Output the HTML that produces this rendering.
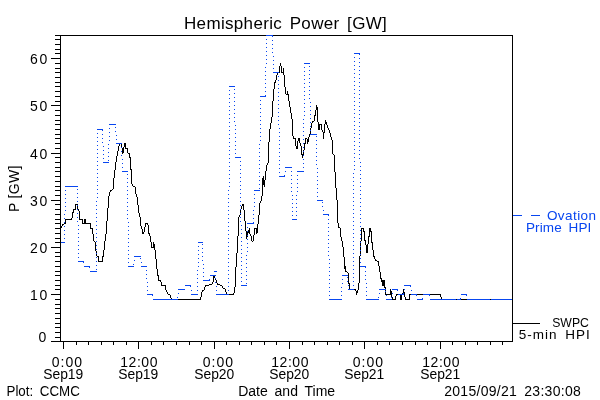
<!DOCTYPE html>
<html><head><meta charset="utf-8"><title>Hemispheric Power</title>
<style>
html,body{margin:0;padding:0;background:#fff;}
svg{display:block;}
text{font-family:"Liberation Sans",sans-serif;}
</style></head><body>
<svg width="600" height="400" viewBox="0 0 600 400">
<rect width="600" height="400" fill="#fff"/>
<g shape-rendering="crispEdges" fill="none" stroke-width="1">
<path d="M60.5 228V229M61.5 226V228M62.5 224V226M63.5 224V225M64.5 223V224M65.5 219V224M66.5 219V220M67.5 219V220M68.5 219V220M69.5 219V220M70.5 219V220M71.5 218V220M72.5 212V218M73.5 209V213M74.5 209V210M75.5 204V210M76.5 204V205M77.5 204V210M78.5 209V211M79.5 211V220M80.5 219V220M81.5 219V220M82.5 219V224M83.5 223V224M84.5 219V224M85.5 219V224M86.5 223V224M87.5 223V224M88.5 223V224M89.5 223V224M90.5 223V229M91.5 228V229M92.5 228V234M93.5 234V241M94.5 241V242M95.5 242V251M96.5 251V256M97.5 256V257M98.5 256V262M99.5 261V262M100.5 261V262M101.5 261V262M102.5 256V262M103.5 250V257M104.5 241V250M105.5 234V241M106.5 221V234M107.5 208V221M108.5 196V208M109.5 192V196M110.5 190V192M111.5 190V191M112.5 189V190M113.5 178V189M114.5 170V178M115.5 162V170M116.5 156V162M117.5 151V156M118.5 146V151M119.5 143V146M120.5 143V144M121.5 143V148M122.5 148V154M123.5 147V153M124.5 143V147M125.5 143V149M126.5 148V149M127.5 148V153M128.5 153V154M129.5 153V158M130.5 157V170M131.5 169V184M132.5 184V186M133.5 186V187M134.5 186V187M135.5 187V194M136.5 194V197M137.5 197V205M138.5 205V213M139.5 213V217M140.5 217V226M141.5 226V229M142.5 229V234M143.5 232V234M144.5 227V232M145.5 223V227M146.5 223V224M147.5 223V225M148.5 225V234M149.5 233V236M150.5 236V242M151.5 242V248M152.5 247V248M153.5 242V248M154.5 244V250M155.5 250V259M156.5 259V269M157.5 269V276M158.5 275V281M159.5 280V281M160.5 280V282M161.5 282V286M162.5 285V286M163.5 285V286M164.5 285V286M165.5 285V290M166.5 290V292M167.5 292V294M168.5 294V295M169.5 294V295M170.5 295V298M171.5 298V300M172.5 299V300M173.5 299V300M174.5 299V300M175.5 299V300M176.5 299V300M177.5 299V300M178.5 299V300M179.5 299V300M180.5 299V300M181.5 299V300M182.5 299V300M183.5 299V300M184.5 299V300M185.5 299V300M186.5 299V300M187.5 299V300M188.5 299V300M189.5 299V300M190.5 299V300M191.5 299V300M192.5 299V300M193.5 299V300M194.5 299V300M195.5 299V300M196.5 299V300M197.5 299V300M198.5 299V300M199.5 299V300M200.5 297V300M201.5 292V297M202.5 290V292M203.5 290V291M204.5 287V290M205.5 285V287M206.5 285V286M207.5 285V286M208.5 285V286M209.5 284V285M210.5 284V285M211.5 284V285M212.5 282V284M213.5 275V282M214.5 275V278M215.5 278V280M216.5 280V283M217.5 283V285M218.5 284V285M219.5 284V285M220.5 285V286M221.5 285V286M222.5 286V288M223.5 288V289M224.5 288V289M225.5 289V292M226.5 292V295M227.5 294V295M228.5 294V295M229.5 294V295M230.5 294V295M231.5 294V295M232.5 294V295M233.5 293V295M234.5 287V293M235.5 267V287M236.5 253V267M237.5 236V253M238.5 217V236M239.5 215V217M240.5 209V215M241.5 206V209M242.5 204V206M243.5 204V210M244.5 210V221M245.5 221V231M246.5 231V239M247.5 232V237M248.5 230V233M249.5 228V234M250.5 234V236M251.5 236V241M252.5 241V242M253.5 235V241M254.5 228V235M255.5 228V229M256.5 228V234M257.5 224V233M258.5 215V224M259.5 203V215M260.5 201V203M261.5 196V201M262.5 178V196M263.5 176V185M264.5 180V187M265.5 171V180M266.5 165V171M267.5 163V165M268.5 142V163M269.5 129V142M270.5 123V129M271.5 117V123M272.5 101V117M273.5 89V101M274.5 82V89M275.5 80V83M276.5 75V80M277.5 73V75M278.5 72V73M279.5 66V73M280.5 63V66M281.5 66V73M282.5 72V73M283.5 68V75M284.5 75V87M285.5 87V94M286.5 94V95M287.5 91V95M288.5 94V101M289.5 101V107M290.5 107V113M291.5 113V119M292.5 119V136M293.5 136V139M294.5 138V139M295.5 138V146M296.5 146V149M297.5 141V149M298.5 138V141M299.5 138V143M300.5 143V146M301.5 146V155M302.5 154V158M303.5 150V156M304.5 143V150M305.5 138V144M306.5 138V139M307.5 139V144M308.5 137V142M309.5 134V137M310.5 128V134M311.5 123V128M312.5 121V123M313.5 121V122M314.5 115V121M315.5 110V116M316.5 105V110M317.5 107V122M318.5 122V130M319.5 124V130M320.5 124V125M321.5 124V130M322.5 130V132M323.5 132V139M324.5 124V133M325.5 120V124M326.5 122V125M327.5 125V128M328.5 128V130M329.5 130V133M330.5 133V137M331.5 137V140M332.5 140V154M333.5 154V155M334.5 155V172M335.5 172V188M336.5 188V200M337.5 200V223M338.5 223V228M339.5 227V228M340.5 228V237M341.5 237V241M342.5 241V247M343.5 247V257M344.5 257V269M345.5 266V272M346.5 271V272M347.5 272V273M348.5 273V284M349.5 283V290M350.5 289V290M351.5 289V290M352.5 289V290M353.5 289V290M354.5 289V290M355.5 289V291M356.5 291V295M357.5 290V293M358.5 283V290M359.5 256V283M360.5 241V256M361.5 228V241M362.5 228V229M363.5 228V232M364.5 231V241M365.5 240V245M366.5 245V253M367.5 244V253M368.5 236V244M369.5 228V237M370.5 228V232M371.5 231V243M372.5 242V250M373.5 250V257M374.5 256V259M375.5 259V261M376.5 260V261M377.5 261V262M378.5 261V266M379.5 266V272M380.5 272V279M381.5 278V282M382.5 280V286M383.5 280V286M384.5 280V288M385.5 287V295M386.5 294V295M387.5 294V295M388.5 294V295M389.5 294V295M390.5 289V295M391.5 291V298M392.5 297V300M393.5 299V300M394.5 299V300M395.5 296V300M396.5 294V296M397.5 294V295M398.5 294V295M399.5 294V295M400.5 294V300M401.5 294V300M402.5 293V294M403.5 289V294M404.5 292V297M405.5 297V300M406.5 299V300M407.5 299V300M408.5 299V300M409.5 294V300M410.5 294V295M411.5 294V295M412.5 294V295M413.5 294V295M414.5 294V295M415.5 294V295M416.5 294V295M417.5 294V295M418.5 294V295M419.5 294V295M420.5 294V295M421.5 294V295M422.5 294V295M423.5 294V295M424.5 294V295M425.5 294V295M426.5 294V295M427.5 294V295M428.5 294V295M429.5 294V295M430.5 294V295M431.5 294V295M432.5 294V295M433.5 294V295M434.5 294V295M435.5 294V295M436.5 294V295M437.5 294V295M438.5 294V295M439.5 294V295M440.5 294V297M441.5 297V300M442.5 299V300M443.5 299V300M444.5 299V300M445.5 299V300M446.5 299V300M447.5 299V300M448.5 299V300M449.5 299V300M450.5 299V300M451.5 299V300M452.5 299V300M453.5 299V300M454.5 299V300M455.5 299V300M456.5 299V300M457.5 299V300M458.5 299V300M459.5 299V300M460.5 299V300M461.5 299V300M462.5 299V300M463.5 299V300M464.5 299V300M465.5 299V300M466.5 299V300M467.5 299V300M468.5 299V300M469.5 299V300M470.5 299V300M471.5 299V300M472.5 299V300M473.5 299V300M474.5 299V300M475.5 299V300M476.5 299V300M477.5 299V300M478.5 299V300M479.5 299V300M480.5 299V300M481.5 299V300M482.5 299V300M483.5 299V300M484.5 299V300M485.5 299V300M486.5 299V300M487.5 299V300M488.5 299V300M489.5 299V300M490.5 299V300M491.5 299V300M492.5 299V300M493.5 299V300M494.5 299V300M495.5 299V300M496.5 299V300M497.5 299V300M498.5 299V300M499.5 299V300M500.5 299V300M501.5 299V300M502.5 299V300M503.5 299V300M504.5 299V300M505.5 299V300M506.5 299V300M507.5 299V300M508.5 299V300M509.5 299V300M510.5 299V300M511.5 299V300M512.5 299V300" stroke="#000"/>
<path d="M61 242.5H65M65 186.5H72M72 186.5H78M78 261.5H84M84 266.5H90M90 271.5H97M97 129.5H103M103 162.5H109M109 124.5H116M116 143.5H122M122 171.5H128M128 266.5H134M134 256.5H141M141 266.5H147M147 294.5H153M153 299.5H160M160 299.5H166M166 299.5H172M172 299.5H178M178 289.5H185M185 285.5H191M191 294.5H198M198 242.5H203M203 280.5H210M210 275.5H216M216 294.5H222M222 294.5H229M229 86.5H235M235 157.5H241M241 285.5H247M247 223.5H254M254 190.5H260M260 96.5H266M266 35.5H273M273 72.5H279M279 176.5H285M285 167.5H292M292 219.5H297M297 171.5H304M304 63.5H310M310 134.5H317M317 200.5H323M323 214.5H329M329 299.5H335M335 299.5H342M342 275.5H348M348 289.5H354M354 53.5H360M360 266.5H366M366 299.5H373M373 299.5H379M379 289.5H386M386 299.5H392M392 289.5H398M398 294.5H404M404 285.5H411M411 294.5H417M417 299.5H423M423 294.5H430M430 299.5H436M436 299.5H442M442 299.5H448M448 299.5H455M455 299.5H461M461 294.5H467M467 299.5H474M474 299.5H480M480 299.5H486M486 299.5H492M492 299.5H499M499 299.5H505M505 299.5H511M511 299.5H512" stroke="#0846f0"/>
<path d="M65.5 190v1M65.5 194v1M65.5 198v1M65.5 202v1M65.5 206v1M65.5 210v1M64.5 214v1M64.5 218v1M64.5 222v1M64.5 226v1M64.5 230v1M64.5 234v1M64.5 238v1M78.5 257v1M78.5 253v1M78.5 249v1M78.5 245v1M78.5 241v1M78.5 237v1M78.5 233v1M78.5 229v1M78.5 225v1M77.5 221v1M77.5 217v1M77.5 213v1M77.5 209v1M77.5 205v1M77.5 201v1M77.5 197v1M77.5 193v1M77.5 189v1M83.5 262v1M89.5 267v1M97.5 133v1M97.5 137v1M97.5 141v1M97.5 145v1M97.5 149v1M97.5 153v1M97.5 157v1M97.5 161v1M97.5 165v1M97.5 169v1M97.5 173v1M97.5 177v1M97.5 181v1M97.5 185v1M97.5 189v1M97.5 193v1M97.5 197v1M96.5 201v1M96.5 205v1M96.5 209v1M96.5 213v1M96.5 217v1M96.5 221v1M96.5 225v1M96.5 229v1M96.5 233v1M96.5 237v1M96.5 241v1M96.5 245v1M96.5 249v1M96.5 253v1M96.5 257v1M96.5 261v1M96.5 265v1M96.5 269v1M103.5 158v1M103.5 154v1M103.5 150v1M103.5 146v1M102.5 142v1M102.5 138v1M102.5 134v1M102.5 130v1M109.5 128v1M109.5 132v1M109.5 136v1M109.5 140v1M108.5 144v1M108.5 148v1M108.5 152v1M108.5 156v1M108.5 160v1M116.5 139v1M116.5 135v1M115.5 131v1M115.5 127v1M122.5 167v1M122.5 163v1M122.5 159v1M121.5 155v1M121.5 151v1M121.5 147v1M128.5 262v1M128.5 258v1M128.5 254v1M128.5 250v1M128.5 246v1M128.5 242v1M128.5 238v1M128.5 234v1M128.5 230v1M128.5 226v1M128.5 222v1M127.5 218v1M127.5 214v1M127.5 210v1M127.5 206v1M127.5 202v1M127.5 198v1M127.5 194v1M127.5 190v1M127.5 186v1M127.5 182v1M127.5 178v1M127.5 174v1M134.5 260v1M133.5 264v1M141.5 262v1M140.5 258v1M147.5 290v1M147.5 286v1M147.5 282v1M146.5 278v1M146.5 274v1M146.5 270v1M152.5 295v1M178.5 293v1M177.5 297v1M191.5 290v1M190.5 286v1M198.5 246v1M198.5 250v1M198.5 254v1M198.5 258v1M198.5 262v1M198.5 266v1M197.5 270v1M197.5 274v1M197.5 278v1M197.5 282v1M197.5 286v1M197.5 290v1M203.5 276v1M203.5 272v1M203.5 268v1M203.5 264v1M202.5 260v1M202.5 256v1M202.5 252v1M202.5 248v1M202.5 244v1M209.5 279v1M216.5 290v1M216.5 286v1M215.5 282v1M215.5 278v1M229.5 90v1M229.5 94v1M229.5 98v1M229.5 102v1M229.5 106v1M229.5 110v1M229.5 114v1M229.5 118v1M229.5 122v1M229.5 126v1M229.5 130v1M229.5 134v1M229.5 138v1M229.5 142v1M229.5 146v1M229.5 150v1M229.5 154v1M229.5 158v1M229.5 162v1M229.5 166v1M229.5 170v1M229.5 174v1M229.5 178v1M229.5 182v1M229.5 186v1M228.5 190v1M228.5 194v1M228.5 198v1M228.5 202v1M228.5 206v1M228.5 210v1M228.5 214v1M228.5 218v1M228.5 222v1M228.5 226v1M228.5 230v1M228.5 234v1M228.5 238v1M228.5 242v1M228.5 246v1M228.5 250v1M228.5 254v1M228.5 258v1M228.5 262v1M228.5 266v1M228.5 270v1M228.5 274v1M228.5 278v1M228.5 282v1M228.5 286v1M228.5 290v1M235.5 153v1M235.5 149v1M235.5 145v1M235.5 141v1M235.5 137v1M235.5 133v1M235.5 129v1M235.5 125v1M234.5 121v1M234.5 117v1M234.5 113v1M234.5 109v1M234.5 105v1M234.5 101v1M234.5 97v1M234.5 93v1M234.5 89v1M241.5 281v1M241.5 277v1M241.5 273v1M241.5 269v1M241.5 265v1M241.5 261v1M241.5 257v1M241.5 253v1M241.5 249v1M241.5 245v1M241.5 241v1M241.5 237v1M241.5 233v1M241.5 229v1M241.5 225v1M240.5 221v1M240.5 217v1M240.5 213v1M240.5 209v1M240.5 205v1M240.5 201v1M240.5 197v1M240.5 193v1M240.5 189v1M240.5 185v1M240.5 181v1M240.5 177v1M240.5 173v1M240.5 169v1M240.5 165v1M240.5 161v1M247.5 227v1M247.5 231v1M247.5 235v1M247.5 239v1M247.5 243v1M247.5 247v1M247.5 251v1M246.5 255v1M246.5 259v1M246.5 263v1M246.5 267v1M246.5 271v1M246.5 275v1M246.5 279v1M246.5 283v1M254.5 194v1M254.5 198v1M254.5 202v1M254.5 206v1M253.5 210v1M253.5 214v1M253.5 218v1M253.5 222v1M260.5 100v1M260.5 104v1M260.5 108v1M260.5 112v1M260.5 116v1M260.5 120v1M260.5 124v1M260.5 128v1M260.5 132v1M260.5 136v1M260.5 140v1M259.5 144v1M259.5 148v1M259.5 152v1M259.5 156v1M259.5 160v1M259.5 164v1M259.5 168v1M259.5 172v1M259.5 176v1M259.5 180v1M259.5 184v1M259.5 188v1M266.5 39v1M266.5 43v1M266.5 47v1M266.5 51v1M266.5 55v1M266.5 59v1M266.5 63v1M265.5 67v1M265.5 71v1M265.5 75v1M265.5 79v1M265.5 83v1M265.5 87v1M265.5 91v1M265.5 95v1M273.5 68v1M273.5 64v1M273.5 60v1M273.5 56v1M272.5 52v1M272.5 48v1M272.5 44v1M272.5 40v1M272.5 36v1M279.5 172v1M279.5 168v1M279.5 164v1M279.5 160v1M279.5 156v1M279.5 152v1M279.5 148v1M279.5 144v1M279.5 140v1M279.5 136v1M279.5 132v1M279.5 128v1M278.5 124v1M278.5 120v1M278.5 116v1M278.5 112v1M278.5 108v1M278.5 104v1M278.5 100v1M278.5 96v1M278.5 92v1M278.5 88v1M278.5 84v1M278.5 80v1M278.5 76v1M285.5 171v1M284.5 175v1M292.5 215v1M292.5 211v1M292.5 207v1M292.5 203v1M292.5 199v1M292.5 195v1M291.5 191v1M291.5 187v1M291.5 183v1M291.5 179v1M291.5 175v1M291.5 171v1M297.5 175v1M297.5 179v1M297.5 183v1M297.5 187v1M297.5 191v1M296.5 195v1M296.5 199v1M296.5 203v1M296.5 207v1M296.5 211v1M296.5 215v1M304.5 67v1M304.5 71v1M304.5 75v1M304.5 79v1M304.5 83v1M304.5 87v1M304.5 91v1M304.5 95v1M304.5 99v1M304.5 103v1M304.5 107v1M304.5 111v1M304.5 115v1M303.5 119v1M303.5 123v1M303.5 127v1M303.5 131v1M303.5 135v1M303.5 139v1M303.5 143v1M303.5 147v1M303.5 151v1M303.5 155v1M303.5 159v1M303.5 163v1M303.5 167v1M310.5 130v1M310.5 126v1M310.5 122v1M310.5 118v1M310.5 114v1M310.5 110v1M310.5 106v1M310.5 102v1M309.5 98v1M309.5 94v1M309.5 90v1M309.5 86v1M309.5 82v1M309.5 78v1M309.5 74v1M309.5 70v1M309.5 66v1M317.5 196v1M317.5 192v1M317.5 188v1M317.5 184v1M317.5 180v1M317.5 176v1M317.5 172v1M317.5 168v1M316.5 164v1M316.5 160v1M316.5 156v1M316.5 152v1M316.5 148v1M316.5 144v1M316.5 140v1M316.5 136v1M323.5 210v1M322.5 206v1M322.5 202v1M329.5 295v1M329.5 291v1M329.5 287v1M329.5 283v1M329.5 279v1M329.5 275v1M329.5 271v1M329.5 267v1M329.5 263v1M329.5 259v1M328.5 255v1M328.5 251v1M328.5 247v1M328.5 243v1M328.5 239v1M328.5 235v1M328.5 231v1M328.5 227v1M328.5 223v1M328.5 219v1M328.5 215v1M342.5 279v1M342.5 283v1M341.5 287v1M341.5 291v1M341.5 295v1M348.5 285v1M347.5 281v1M347.5 277v1M354.5 57v1M354.5 61v1M354.5 65v1M354.5 69v1M354.5 73v1M354.5 77v1M354.5 81v1M354.5 85v1M354.5 89v1M354.5 93v1M354.5 97v1M354.5 101v1M354.5 105v1M354.5 109v1M354.5 113v1M354.5 117v1M354.5 121v1M354.5 125v1M354.5 129v1M354.5 133v1M354.5 137v1M354.5 141v1M354.5 145v1M354.5 149v1M354.5 153v1M354.5 157v1M354.5 161v1M354.5 165v1M354.5 169v1M353.5 173v1M353.5 177v1M353.5 181v1M353.5 185v1M353.5 189v1M353.5 193v1M353.5 197v1M353.5 201v1M353.5 205v1M353.5 209v1M353.5 213v1M353.5 217v1M353.5 221v1M353.5 225v1M353.5 229v1M353.5 233v1M353.5 237v1M353.5 241v1M353.5 245v1M353.5 249v1M353.5 253v1M353.5 257v1M353.5 261v1M353.5 265v1M353.5 269v1M353.5 273v1M353.5 277v1M353.5 281v1M353.5 285v1M360.5 262v1M360.5 258v1M360.5 254v1M360.5 250v1M360.5 246v1M360.5 242v1M360.5 238v1M360.5 234v1M360.5 230v1M360.5 226v1M360.5 222v1M360.5 218v1M360.5 214v1M360.5 210v1M360.5 206v1M360.5 202v1M360.5 198v1M360.5 194v1M360.5 190v1M360.5 186v1M360.5 182v1M360.5 178v1M360.5 174v1M360.5 170v1M360.5 166v1M360.5 162v1M359.5 158v1M359.5 154v1M359.5 150v1M359.5 146v1M359.5 142v1M359.5 138v1M359.5 134v1M359.5 130v1M359.5 126v1M359.5 122v1M359.5 118v1M359.5 114v1M359.5 110v1M359.5 106v1M359.5 102v1M359.5 98v1M359.5 94v1M359.5 90v1M359.5 86v1M359.5 82v1M359.5 78v1M359.5 74v1M359.5 70v1M359.5 66v1M359.5 62v1M359.5 58v1M359.5 54v1M366.5 295v1M366.5 291v1M366.5 287v1M366.5 283v1M365.5 279v1M365.5 275v1M365.5 271v1M365.5 267v1M379.5 293v1M378.5 297v1M386.5 295v1M385.5 291v1M392.5 293v1M391.5 297v1M397.5 290v1M404.5 289v1M403.5 293v1M411.5 290v1M410.5 286v1M416.5 295v1M422.5 298v1M429.5 295v1M460.5 298v1M466.5 295v1" stroke="#0846f0"/>
<path d="M456 299.5h1M490 299.5h1M461 299.5h6" stroke="#000"/>
<rect x="60.5" y="35.5" width="452" height="306" stroke="#000"/>
<path d="M51 341.5H61" stroke="#000"/>
<path d="M51 341.5H60M55 337.5H60M55 332.5H60M55 327.5H60M55 323.5H60M55 318.5H60M55 313.5H60M55 308.5H60M55 304.5H60M55 299.5H60M51 294.5H60M55 289.5H60M55 285.5H60M55 280.5H60M55 275.5H60M55 271.5H60M55 266.5H60M55 261.5H60M55 256.5H60M55 252.5H60M51 247.5H60M55 242.5H60M55 238.5H60M55 233.5H60M55 228.5H60M55 223.5H60M55 219.5H60M55 214.5H60M55 209.5H60M55 204.5H60M51 200.5H60M55 195.5H60M55 190.5H60M55 186.5H60M55 181.5H60M55 176.5H60M55 171.5H60M55 167.5H60M55 162.5H60M55 157.5H60M51 153.5H60M55 148.5H60M55 143.5H60M55 138.5H60M55 134.5H60M55 129.5H60M55 124.5H60M55 120.5H60M55 115.5H60M55 110.5H60M51 105.5H60M55 101.5H60M55 96.5H60M55 91.5H60M55 86.5H60M55 82.5H60M55 77.5H60M55 72.5H60M55 68.5H60M55 63.5H60M51 58.5H60M55 53.5H60M55 49.5H60M55 44.5H60M55 39.5H60M55 35.5H60M63.5 342V349M76.5 342V345M88.5 342V345M101.5 342V345M113.5 342V345M126.5 342V345M138.5 342V349M151.5 342V345M163.5 342V345M176.5 342V345M189.5 342V345M201.5 342V345M214.5 342V349M226.5 342V345M239.5 342V345M251.5 342V345M264.5 342V345M276.5 342V345M289.5 342V349M302.5 342V345M314.5 342V345M327.5 342V345M339.5 342V345M352.5 342V345M364.5 342V349M377.5 342V345M389.5 342V345M402.5 342V345M415.5 342V345M427.5 342V345M440.5 342V349M452.5 342V345M465.5 342V345M477.5 342V345M490.5 342V345M502.5 342V345" stroke="#000"/>
<path d="M266 35.5h7M214 271.5h2.5" stroke="#0846f0"/>
<path d="M513 215.5h9M531 215.5h9" stroke="#0846f0"/>
<path d="M513 323.5h27" stroke="#000"/>
</g>
<g>
<text x="184.00" y="29" fill="#000" font-size="17" textLength="202.80" lengthAdjust="spacing" word-spacing="2.5">Hemispheric Power [GW]</text>
<text x="38.50" y="341.5" fill="#000" font-size="14" textLength="8.80" lengthAdjust="spacing">0</text>
<text x="30.00" y="300.0" fill="#000" font-size="14" textLength="17.30" lengthAdjust="spacing">10</text>
<text x="30.00" y="253.0" fill="#000" font-size="14" textLength="17.30" lengthAdjust="spacing">20</text>
<text x="30.00" y="206.0" fill="#000" font-size="14" textLength="17.30" lengthAdjust="spacing">30</text>
<text x="30.00" y="159.0" fill="#000" font-size="14" textLength="17.30" lengthAdjust="spacing">40</text>
<text x="30.00" y="111.0" fill="#000" font-size="14" textLength="17.30" lengthAdjust="spacing">50</text>
<text x="30.00" y="64.0" fill="#000" font-size="14" textLength="17.30" lengthAdjust="spacing">60</text>
<text x="51.70" y="367" fill="#000" font-size="14" textLength="30.30" lengthAdjust="spacing">0:00</text>
<text x="43.20" y="379" fill="#000" font-size="14" textLength="40.10" lengthAdjust="spacingAndGlyphs">Sep19</text>
<text x="120.20" y="367" fill="#000" font-size="14" textLength="37.30" lengthAdjust="spacing">12:00</text>
<text x="118.20" y="379" fill="#000" font-size="14" textLength="40.10" lengthAdjust="spacingAndGlyphs">Sep19</text>
<text x="202.70" y="367" fill="#000" font-size="14" textLength="30.30" lengthAdjust="spacing">0:00</text>
<text x="194.20" y="379" fill="#000" font-size="14" textLength="40.10" lengthAdjust="spacingAndGlyphs">Sep20</text>
<text x="271.20" y="367" fill="#000" font-size="14" textLength="37.30" lengthAdjust="spacing">12:00</text>
<text x="269.20" y="379" fill="#000" font-size="14" textLength="40.10" lengthAdjust="spacingAndGlyphs">Sep20</text>
<text x="352.70" y="367" fill="#000" font-size="14" textLength="30.30" lengthAdjust="spacing">0:00</text>
<text x="344.20" y="379" fill="#000" font-size="14" textLength="40.10" lengthAdjust="spacingAndGlyphs">Sep21</text>
<text x="422.20" y="367" fill="#000" font-size="14" textLength="37.30" lengthAdjust="spacing">12:00</text>
<text x="420.20" y="379" fill="#000" font-size="14" textLength="40.10" lengthAdjust="spacingAndGlyphs">Sep21</text>
<text x="6.50" y="396" fill="#000" font-size="14" textLength="73.30" lengthAdjust="spacingAndGlyphs" word-spacing="3">Plot: CCMC</text>
<text x="238.20" y="396" fill="#000" font-size="14" textLength="96.90" lengthAdjust="spacing" word-spacing="3">Date and Time</text>
<text x="444.20" y="396" fill="#000" font-size="14" textLength="136.60" lengthAdjust="spacing" word-spacing="3">2015/09/21 23:30:08</text>
<text x="546.90" y="220" fill="#0846f0" font-size="13.5" textLength="49.10" lengthAdjust="spacing">Ovation</text>
<text x="526.00" y="231.5" fill="#0846f0" font-size="13.5" textLength="65.30" lengthAdjust="spacing" word-spacing="3">Prime HPI</text>
<text x="552.20" y="326.5" fill="#000" font-size="13.5" textLength="36.70" lengthAdjust="spacingAndGlyphs">SWPC</text>
<text x="518.80" y="339" fill="#000" font-size="13.5" textLength="70.90" lengthAdjust="spacing" word-spacing="3">5-min HPI</text>
<text transform="translate(19,212) rotate(-90)" font-size="14" textLength="46.5" lengthAdjust="spacing">P [GW]</text>
</g>
</svg>
</body></html>
